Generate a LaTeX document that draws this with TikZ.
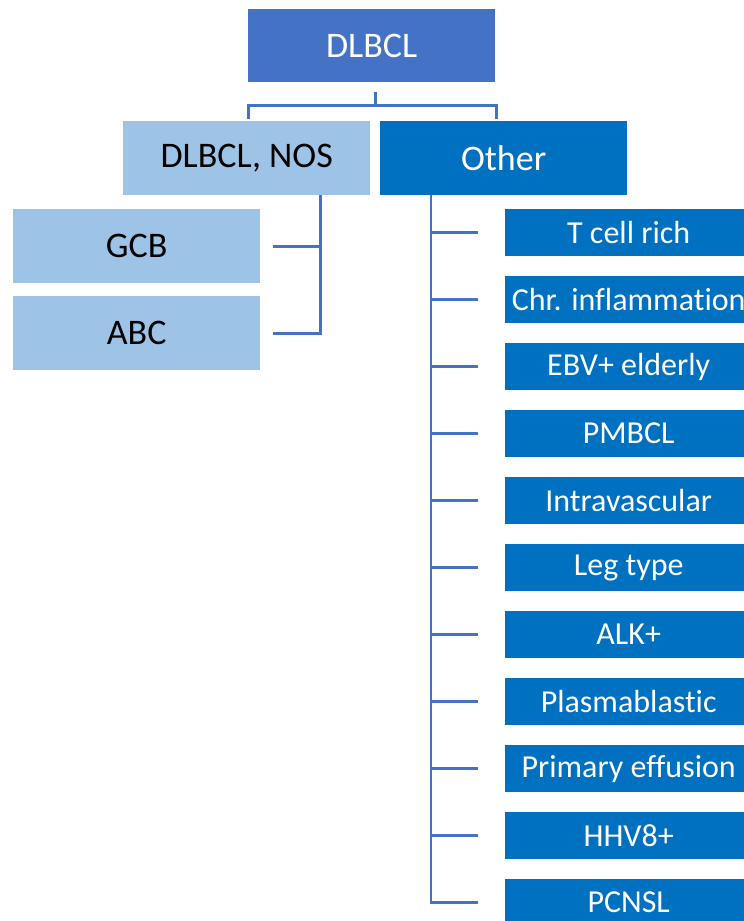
\documentclass[tikz,border=0pt]{standalone}
\usepackage{fontspec}
\setmainfont[Ligatures={NoCommon}]{Carlito}
\definecolor{topblue}{HTML}{4472C4}
\definecolor{darkblue}{HTML}{0070C0}
\definecolor{lightblue}{HTML}{9DC3E6}
\begin{document}
\begin{tikzpicture}[x=1pt,y=-1pt,
  bigbox/.style={anchor=north west, inner sep=0pt, minimum width=247pt, minimum height=74pt, font=\fontsize{36}{40}\selectfont},
  topbox/.style={bigbox, fill=topblue, text=white, minimum height=73pt},
  nosbox/.style={bigbox, fill=lightblue, text=black},
  otherbox/.style={bigbox, fill=darkblue, text=white},
  subbox/.style={anchor=north west, inner sep=0pt, minimum width=247pt, minimum height=47pt, fill=darkblue, text=white, font=\fontsize{32}{36}\selectfont},
  conn/.style={draw=topblue, line width=2.6pt}]
\clip (0,0) rectangle (744,921);
\node[topbox] (top) at (248,9) {DLBCL};
\node[nosbox] (nos) at (123,121) {DLBCL, NOS};
\node[otherbox] (other) at (380,121) {Other};
\node[nosbox] (gcb) at (13,209) {GCB};
\node[nosbox] (abc) at (13,296) {ABC};
\foreach \i/\t in {0/T cell rich, 1/Chr. inflammation, 2/EBV+ elderly, 3/PMBCL, 4/Intravascular, 5/Leg type, 6/ALK+, 7/Plasmablastic, 8/Primary effusion, 9/HHV8+, 10/PCNSL}{
  \node[subbox] (r\i) at (505,{209+67*\i}) {\t};
}
% top connectors
\draw[conn] ([xshift=4pt,yshift=-10pt]top.south) -- ([xshift=4pt,yshift=-23pt]top.south);
\draw[conn] ([xshift=1.5pt,yshift=2pt]nos.north) |- ([yshift=-23pt]top.south) -| ([xshift=-7pt,yshift=2pt]other.north);
% NOS children
\coordinate (nv) at ([xshift=-50pt]nos.south east);
\draw[conn] (nv) |- ([xshift=13pt]abc.east);
\draw[conn] ([xshift=13pt]gcb.east) -- (gcb.east -| nv);
% Other children
\coordinate (ov) at ([xshift=51pt]other.south west);
\draw[conn] (ov) |- ([xshift=-27pt]r10.west);
\foreach \i in {0,...,9}{
  \draw[conn] ([xshift=-27pt]r\i.west) -- (r\i.west -| ov);
}
\end{tikzpicture}
\end{document}
